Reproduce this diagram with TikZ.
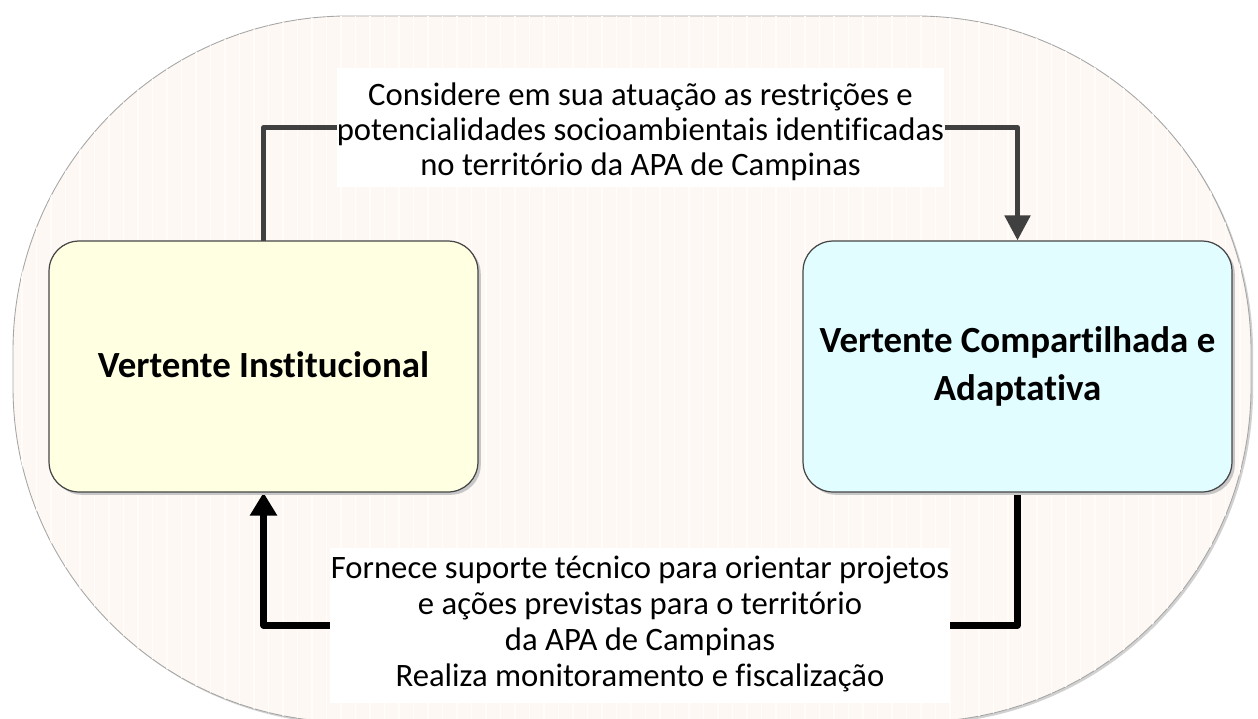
\documentclass[tikz,border=0pt]{standalone}
\usepackage{fontspec}
\setmainfont{Carlito}[Ligatures=NoCommon]
\usetikzlibrary{arrows.meta,shadows,backgrounds}
\definecolor{bgfill}{RGB}{253,248,244}
\definecolor{bgline}{RGB}{255,252,250}
\definecolor{yellowfill}{RGB}{255,255,226}
\definecolor{cyanfill}{RGB}{226,253,255}
\definecolor{boxborder}{RGB}{70,70,70}
\definecolor{toparrowcol}{RGB}{64,64,64}
\tikzset{
  vbox/.style={draw=boxborder, line width=0.7pt, rounded corners=0.6cm,
    minimum width=8.58cm, minimum height=5.02cm, inner sep=0pt, align=center,
    font=\bfseries\fontsize{21}{27.4}\selectfont,
    drop shadow={shadow xshift=1.6pt, shadow yshift=-1.6pt, fill=black!22, opacity=1}},
  tbox/.style={fill=white, inner sep=0pt, align=center},
  toparrow/.style={draw=toparrowcol, line width=2.9pt, line join=round},
  botarrow/.style={draw=black, line width=3.6pt, line join=round},
  toptip/.style={-{Triangle[width=0.5cm,length=0.5cm]}},
  bottip/.style={-{Triangle[width=0.52cm,length=0.46cm]}}
}
\begin{document}
\begin{tikzpicture}[x=0.02cm,y=-0.02cm]
\useasboundingbox (0,0) rectangle (1258,718);
% boxes
\node[vbox, fill=yellowfill] (L) at (263.5,366.5) {\raisebox{0.04cm}[\height][\depth]{Vertente Institucional}};
\node[vbox, fill=cyanfill] (R) at (1017.5,366.5) {Vertente Compartilhada e\\Adaptativa};
\node[tbox, minimum width=12.14cm, minimum height=2.38cm,
  font=\fontsize{18.6}{19.9}\selectfont] (T) at (640.5,127.5)
  {\raisebox{-0.12cm}[\height][\depth]{\begin{tabular}{@{}c@{}}Considere em sua atuação as restrições e\\potencialidades socioambientais identificadas\\no território da APA de Campinas\end{tabular}}};
\node[tbox, minimum width=12.4cm, minimum height=3.12cm,
  font=\fontsize{18.6}{20.4}\selectfont] (B) at (640,625.5)
  {\begin{tabular}{@{}c@{}}Fornece suporte técnico para orientar projetos\\e ações previstas para o território\\da APA de Campinas\\Realiza monitoramento e fiscalização\end{tabular}};
\begin{scope}[on background layer]
  \path[draw=gray!70, line width=0.5pt, fill=bgfill, rounded corners=6.7cm,
    drop shadow={shadow xshift=1.2pt, shadow yshift=-1.2pt, fill=black!18, opacity=1}]
    (13,16) rectangle (1251,722);
  \begin{scope}
    \clip[rounded corners=6.7cm] (13,16) rectangle (1251,722);
    \foreach \x in {22,36.5,...,1250} \draw[bgline, line width=0.8pt] (\x,16) -- (\x,722);
  \end{scope}
  \draw[toparrow, line cap=round] (L.north) |- (T.west);
  \draw[toparrow, toptip] (T.east) -| (R.north);
  \draw[botarrow, line cap=round] (R.south) |- (B.east);
  \draw[botarrow, bottip] (B.west) -| (L.south);
\end{scope}
\end{tikzpicture}
\end{document}
